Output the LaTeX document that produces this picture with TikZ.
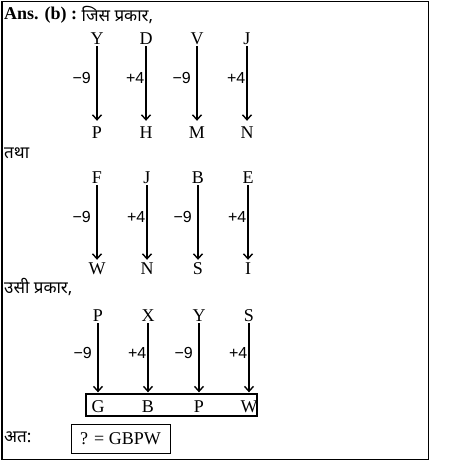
\documentclass[tikz,border=0pt]{standalone}
\usepackage{fontspec}
\setmainfont{Liberation Serif}
\newfontfamily\devfont[Script=Devanagari]{Noto Sans}
\newfontfamily\labfont{Liberation Sans}
\usetikzlibrary{arrows.meta}
\begin{document}
\begin{tikzpicture}[x=1pt,y=-1pt,
  letr/.style={font=\fontsize{18}{18}\selectfont, inner sep=2pt, text height=12pt, text depth=0pt},
  lbl/.style={font=\labfont\fontsize{16}{16}\selectfont, inner sep=0pt, anchor=east},
  arr/.style={line width=1.4pt, -{Straight Barb[length=5pt,width=9pt,line width=1.4pt]}},
  txt/.style={anchor=west, inner sep=0pt, font=\fontsize{18}{18}\selectfont},
  dev/.style={anchor=west, inner sep=0pt, font=\devfont\fontsize{17}{17}\selectfont}
]
\useasboundingbox (0,0) rectangle (453,467);
\draw[line width=1pt] (2,1) rectangle (428,459);

% header
\node[txt] (hdr) at (4,15) {\textbf{Ans. (b) :}};
\node[dev] (hdr2) at (hdr.east) [xshift=4pt] {जिस प्रकार,};

% section 1
\foreach \t/\b/\l/\x/\o [count=\i] in {Y/P/−9/97/6, D/H/+4/146/1.5, V/M/−9/197/6, J/N/+4/247/1.5} {
  \node[letr] (a\i) at (\x,38) {\t};
  \node[letr] (b\i) at (\x,132) {\b};
  \draw[arr, shorten >=3pt] (a\i) -- (b\i);
  \node[lbl] (c\i) at (\x-\o,78) {\l};
}

\node[dev] (tatha) at (4,153) {तथा};

% section 2
\foreach \t/\b/\l/\x/\o [count=\i] in {F/W/−9/97/6, J/N/+4/147/1.5, B/S/−9/198/6, E/I/+4/248/1.5} {
  \node[letr] (d\i) at (\x,177) {\t};
  \node[letr] (e\i) at (\x,268) {\b};
  \draw[arr] (d\i) -- (e\i);
  \node[lbl] (f\i) at (\x-\o,217) {\l};
}

\node[dev] (usi) at (4,287) {उसी प्रकार,};

% section 3
\node[draw, line width=1.3pt, minimum width=171pt, minimum height=22pt, inner sep=0pt] (box) at (171.5,405) {};
\foreach \t/\b/\l/\x/\o [count=\i] in {P/G/−9/98/6, X/B/+4/148/1.5, Y/P/−9/199/6, S/W/+4/249/1.5} {
  \node[letr] (g\i) at (\x,315) {\t};
  \node[letr] (h\i) at (\x,406) {\b};
  \draw[arr, shorten >=1pt] (g\i) -- (g\i |- box.north);
  \node[lbl] (k\i) at (\x-\o,353) {\l};
}

\node[dev] (atah) at (4,437) {अत:};
\node[draw, line width=1pt, minimum width=99pt, minimum height=29pt, inner sep=0pt, font=\fontsize{18}{18}\selectfont] (ans) at (120.5,438.5) {? = GBPW};
\end{tikzpicture}
\end{document}
